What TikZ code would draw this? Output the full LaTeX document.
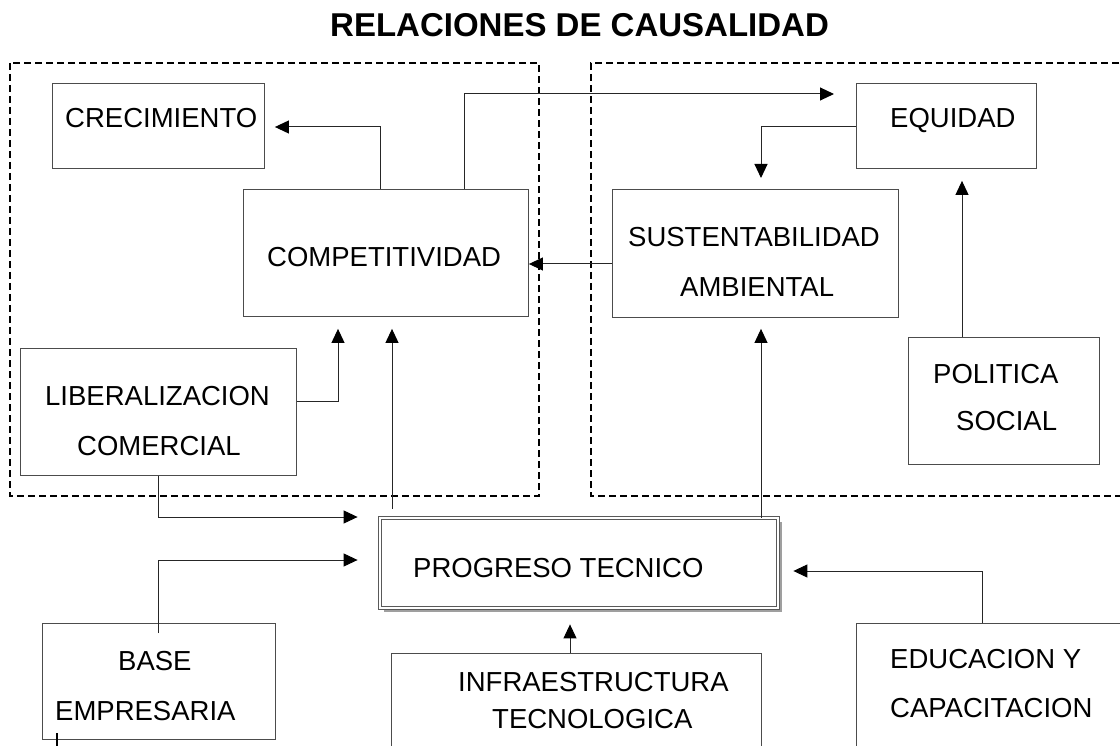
\documentclass[tikz,border=0pt]{standalone}
\usepackage{fontspec}
\setmainfont{Liberation Sans}
\usetikzlibrary{arrows.meta,shadows}
\tikzset{
  box/.style={draw=black!70, line width=0.9pt, fill=white, inner sep=0pt, anchor=north west},
  lbl/.style={inner sep=0pt, anchor=base west, font=\fontsize{27.5}{33}\selectfont},
  arr/.style={draw=black!85, line width=1pt, -{Triangle[length=14pt,width=13pt,color=black]}},
  frame/.style={draw=black, line width=1.8pt, dash pattern=on 7pt off 4pt},
  progbox/.style={draw=black!65, line width=0.8pt, double=white, double distance=2.2pt, fill=white,
    inner sep=0pt, minimum width=398pt, minimum height=90pt,
    drop shadow={shadow xshift=3.5pt, shadow yshift=-3.5pt, fill=gray!75, opacity=1}}
}
\begin{document}
\begin{tikzpicture}[x=1pt,y=-1pt]
\useasboundingbox (0,0) rectangle (1120,746);
\clip (0,0) rectangle (1120,746);

% title
\node[inner sep=0pt, anchor=base west, font=\fontsize{33}{40}\selectfont\bfseries] (title) at (330,37) {RELACIONES DE CAUSALIDAD};

% dashed groups
\draw[frame] (10,63) rectangle (539,496);
\draw[frame] (1130,63) -- (591,63) -- (591,496) -- (1130,496);

% boxes
\node[box, minimum width=212pt, minimum height=85pt] (cre) at (52,83) {};
\node[box, minimum width=285pt, minimum height=127pt] (comp) at (243,189) {};
\node[box, minimum width=180pt, minimum height=85pt] (equ) at (856,83) {};
\node[box, minimum width=286pt, minimum height=128pt] (sus) at (612,189) {};
\node[box, minimum width=276pt, minimum height=127pt] (lib) at (20,348) {};
\node[box, minimum width=191pt, minimum height=127pt] (pol) at (908,337) {};
\node[progbox] (prog) at (579,563) {};
\node[box, minimum width=233pt, minimum height=116pt] (base) at (42,623) {};
\node[box, minimum width=370pt, minimum height=130pt] (infra) at (391,653) {};
\node[box, minimum width=300pt, minimum height=150pt] (edu) at (856,623) {};

% texts
\node[lbl] (tcre) at (65,128) {CRECIMIENTO};
\node[lbl] (tcomp) at (267,267) {COMPETITIVIDAD};
\node[lbl] (tequ) at (890,128) {EQUIDAD};
\node[lbl] (tsus1) at (628,247) {SUSTENTABILIDAD};
\node[lbl] (tsus2) at (680,297) {AMBIENTAL};
\node[lbl] (tlib1) at (45,405) {LIBERALIZACION};
\node[lbl] (tlib2) at (77,455) {COMERCIAL};
\node[lbl] (tpol1) at (933,383) {POLITICA};
\node[lbl] (tpol2) at (956,430) {SOCIAL};
\node[lbl] (tprog) at (413,577) {PROGRESO TECNICO};
\node[lbl] (tbase1) at (118,670) {BASE};
\node[lbl] (tbase2) at (55,720) {EMPRESARIA};
\node[lbl] (tinf1) at (458,691) {INFRAESTRUCTURA};
\node[lbl] (tinf2) at (492,728) {TECNOLOGICA};
\node[lbl] (tedu1) at (890,668) {EDUCACION Y};
\node[lbl] (tedu2) at (890,717) {CAPACITACION};

% bend coordinates
\coordinate (k1) at (380,127);
\coordinate (k2) at (464,94);
\coordinate (k3) at (761,127);
\coordinate (k4) at (600,264);
\coordinate (k5) at (962,250);
\coordinate (k6) at (338,401);
\coordinate (k7) at (392,420);
\coordinate (k8) at (761,420);
\coordinate (k9) at (570,630);
\coordinate (k10) at (982,571);
\coordinate (k11) at (158,517);
\coordinate (k12) at (158,560);

% connectors
\draw[arr, shorten >=10pt] (comp.north -| k1) |- (cre.east |- k1);
\draw[arr, shorten >=22pt] (comp.north -| k2) |- (equ.west |- k2);
\draw[arr, shorten >=11pt] (equ.west |- k3) -| (sus.north -| k3);
\draw[arr] (sus.west |- k4) -- (comp.east |- k4);
\draw[arr, shorten >=12pt] (pol.north -| k5) -- (equ.south -| k5);
\draw[arr, shorten >=12pt] (lib.east |- k6) -| (comp.south -| k6);
\draw[arr, shorten >=12pt, shorten <=9pt] (prog.north -| k7) -- (comp.south -| k7);
\draw[arr, shorten >=11pt] (prog.north -| k8) -- (sus.south -| k8);
\draw[arr, shorten >=16pt] (infra.north -| k9) -- (prog.south -| k9);
\draw[arr, shorten >=15pt] (edu.north -| k10) |- (prog.east |- k10);
\draw[arr, shorten >=22pt] (lib.south -| k11) |- (prog.west |- k11);
\draw[arr, shorten >=22pt, shorten <=-10pt] (base.north -| k12) |- (prog.west |- k12);

% small mark at bottom left
\draw[line width=2pt] (57,733) -- (57,750);
\end{tikzpicture}
\end{document}
